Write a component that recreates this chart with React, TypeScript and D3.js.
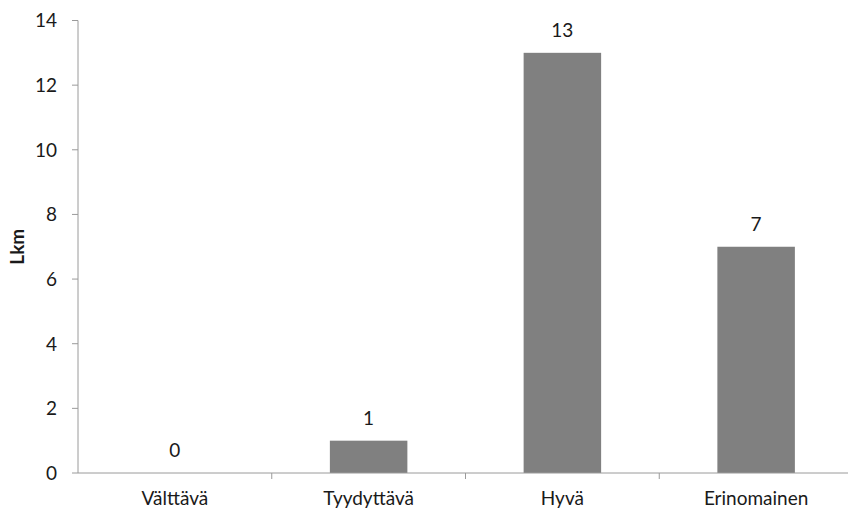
import React from "react";
import * as d3 from "d3";

const categories: string[] = ["Välttävä", "Tyydyttävä", "Hyvä", "Erinomainen"];
const counts: number[] = [0, 1, 13, 7];
const yTicks: number[] = [0, 2, 4, 6, 8, 10, 12, 14];
const yLabel = "Lkm";

const W = 848;
const H = 510;
const left = 78;
const right = 853;
const top = 20.5;
const bottom = 473;
const font = "Lato, 'Open Sans', sans-serif";
const fs = 19;

export default function App() {
  const x = d3.scaleBand<string>().domain(categories).range([left, right]).padding(0);
  const y = d3.scaleLinear().domain([0, 14]).range([bottom, top]);
  const bw = x.bandwidth() * 0.4;
  const axisColor = "#9a9a9a";

  return (
    <svg width={W} height={H} style={{ position: "absolute", left: 0, top: 0, background: "#fff" }}>
      {/* y axis */}
      <line x1={left} x2={left} y1={top} y2={bottom} stroke={axisColor} strokeWidth={1} />
      {yTicks.map((t) => (
        <g key={t}>
          <line x1={left - 6} x2={left} y1={y(t)} y2={y(t)} stroke={axisColor} />
          <text x={57} y={y(t)} dy="0.36em" textAnchor="end" fontFamily={font} fontSize={fs} fill="#1a1a1a">
            {t}
          </text>
        </g>
      ))}
      <text
        transform={`translate(17,${(top + bottom) / 2}) rotate(-90)`}
        textAnchor="middle"
        dy="0.36em"
        fontFamily={font}
        fontSize={fs}
        fontWeight="bold"
        fill="#1a1a1a"
      >
        {yLabel}
      </text>

      {/* bars */}
      {categories.map((c, i) => {
        const cx = (x(c) as number) + x.bandwidth() / 2;
        const v = counts[i];
        return (
          <g key={c}>
            {v > 0 && (
              <rect x={cx - bw / 2} y={y(v)} width={bw} height={bottom - y(v)} fill="#808080" />
            )}
            <text x={cx} y={y(v) - 16} textAnchor="middle" fontFamily={font} fontSize={fs} fill="#1a1a1a">
              {v}
            </text>
            <text x={cx} y={505} textAnchor="middle" fontFamily={font} fontSize={fs} fill="#1a1a1a">
              {c}
            </text>
          </g>
        );
      })}

      {/* x axis */}
      <line x1={left} x2={right} y1={bottom} y2={bottom} stroke={axisColor} strokeWidth={1} />
      {categories.slice(1).map((c) => (
        <line key={c} x1={x(c)} x2={x(c)} y1={bottom} y2={bottom + 6} stroke={axisColor} />
      ))}
    </svg>
  );
}
